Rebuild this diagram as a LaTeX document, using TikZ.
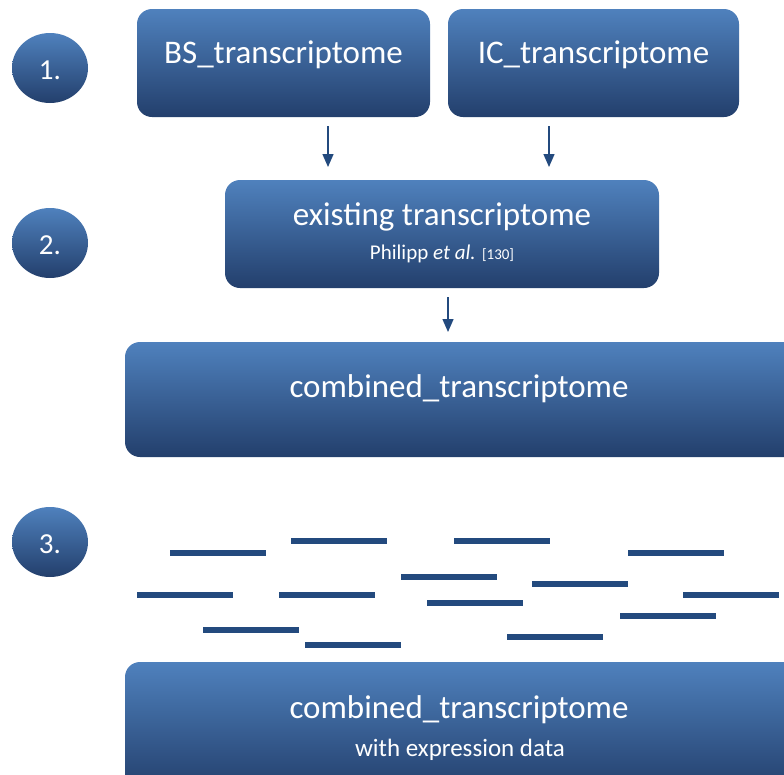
\documentclass[tikz,border=0pt]{standalone}
\usepackage{fontspec}
\setmainfont{Carlito}
\usetikzlibrary{arrows.meta,shapes.geometric}
\definecolor{boxtop}{HTML}{4F81BD}
\definecolor{boxbot}{HTML}{233F6C}
\definecolor{lineblue}{HTML}{234A7E}
\tikzset{
  box/.style={draw=none, rounded corners=15pt, top color=boxtop, bottom color=boxbot, inner sep=0pt},
  numcirc/.style={ellipse, draw=none, top color=boxtop, bottom color=boxbot, minimum width=76pt, minimum height=70pt, inner sep=0pt},
  numtext/.style={text=white, font=\fontsize{29}{33}\selectfont},
  bigtext/.style={text=white, font=\fontsize{33}{38}\selectfont},
  smalltext/.style={text=white, font=\fontsize{21}{25}\selectfont},
  midtext/.style={text=white, font=\fontsize{25}{29}\selectfont},
  arr/.style={draw=lineblue, line width=1.4pt, -{Triangle[length=13pt,width=11pt]}},
  readline/.style={draw=lineblue, line width=6pt, line cap=butt}
}
\begin{document}
\begin{tikzpicture}[x=1pt,y=-1pt]
\useasboundingbox (0,0) rectangle (784,774);
\clip (0,0) rectangle (784,774);
% number circles
\node[numcirc] (c1) at (50,68) {};
\node[numtext] (t1) at (50,70) {1.};
\node[numcirc] (c2) at (50,243) {};
\node[numtext] (t2) at (50,245) {2.};
\node[numcirc] (c3) at (50,542) {};
\node[numtext] (t3) at (50,544) {3.};
% boxes
\node[box, minimum width=293pt, minimum height=108pt] (bs) at (283.5,63) {};
\node[bigtext] (bst) at (283.5,55) {BS\_transcriptome};
\node[box, minimum width=291pt, minimum height=108pt] (ic) at (593.5,63) {};
\node[bigtext] (ict) at (593.5,55) {IC\_transcriptome};
\node[box, minimum width=434pt, minimum height=108pt] (ex) at (442,234) {};
\node[bigtext] (ext) at (442,217) {existing transcriptome};
\node[smalltext] (exs) at (442,254) {Philipp \textit{et al.} {\fontsize{15}{18}\selectfont[130]}};
\node[box, minimum width=690pt, minimum height=115pt] (cb) at (470,399.5) {};
\node[bigtext] (cbt) at (459,389) {combined\_transcriptome};
\node[box, minimum width=690pt, minimum height=130pt] (cx) at (470,727) {};
\node[bigtext] (cxt) at (459,710) {combined\_transcriptome};
\node[midtext] (cxs) at (460,750) {with expression data};
% arrows
\coordinate (a1s) at (328,126);
\coordinate (a1e) at (328,167);
\coordinate (a2s) at (549,126);
\coordinate (a2e) at (549,167);
\coordinate (a3s) at (448,297);
\coordinate (a3e) at (448,332);
\draw[arr] (a1s) -- (a1e);
\draw[arr] (a2s) -- (a2e);
\draw[arr] (a3s) -- (a3e);
% reads
\foreach \xa/\ya in {170/553, 291/541, 454/541, 628/553, 401/577, 532/584, 137/595, 279/595, 427/603, 683/595, 620/616, 203/630, 305/645, 507/637}{
  \draw[readline] (\xa,\ya) -- ++(96,0);
}
\end{tikzpicture}
\end{document}
